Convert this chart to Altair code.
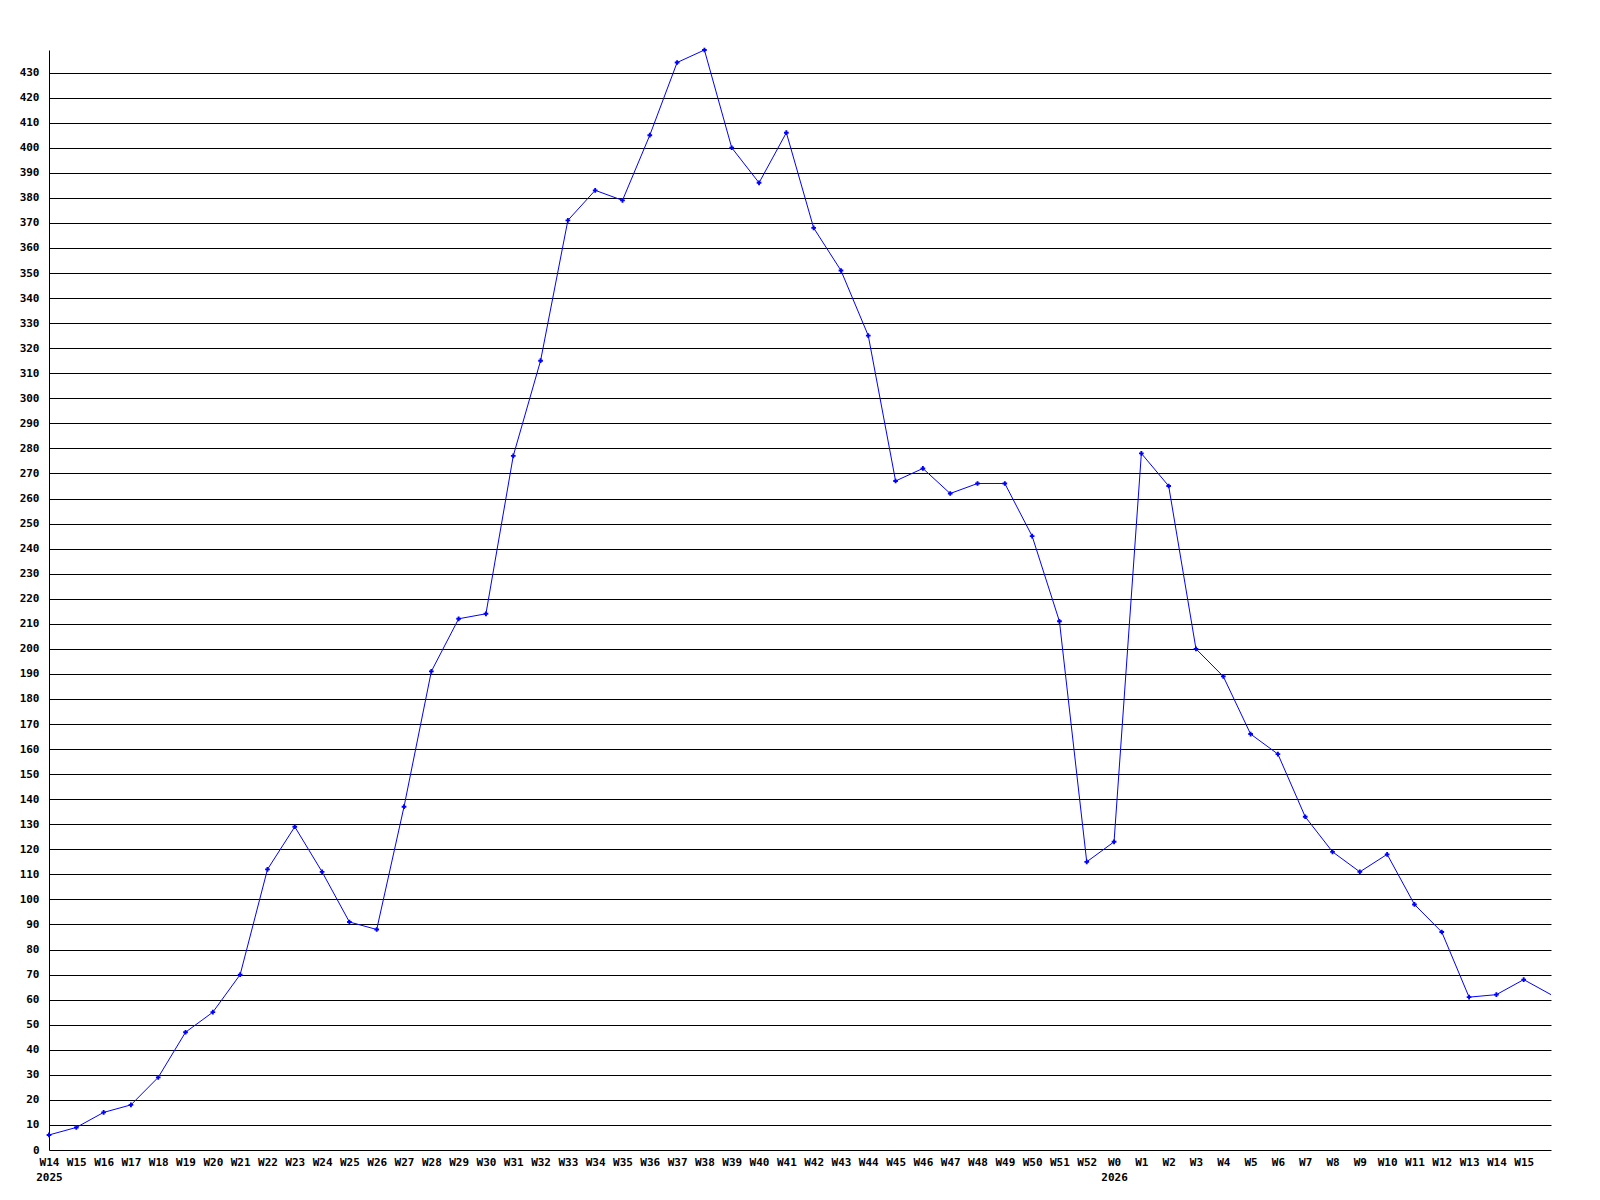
import altair as alt
import pandas as pd

weeks = ["W14", "W15", "W16", "W17", "W18", "W19", "W20", "W21", "W22", "W23",
         "W24", "W25", "W26", "W27", "W28", "W29", "W30", "W31", "W32", "W33",
         "W34", "W35", "W36", "W37", "W38", "W39", "W40", "W41", "W42", "W43",
         "W44", "W45", "W46", "W47", "W48", "W49", "W50", "W51", "W52",
         "W0", "W1", "W2", "W3", "W4", "W5", "W6", "W7", "W8", "W9", "W10",
         "W11", "W12", "W13", "W14", "W15", "W16"]
years = ["2025"] + [""] * 38 + ["2026"] + [""] * 16
values = [6, 9, 15, 18, 29, 47, 55, 70, 112, 129,
          111, 91, 88, 137, 191, 212, 214, 277, 315, 371,
          383, 379, 405, 434, 439, 400, 386, 406, 368, 351,
          325, 267, 272, 262, 266, 266, 245, 211, 115,
          123, 278, 265, 200, 189, 166, 158, 133, 119, 111, 118,
          98, 87, 61, 62, 68, 62]
shown = [True] * 55 + [False]  # last point lies on the plot edge, unlabeled

df = pd.DataFrame({"i": list(range(len(values))), "week": weeks,
                   "year": years, "value": values, "shown": shown})

n_labeled = 55
label_items = []
for k in range(n_labeled):
    if years[k]:
        label_items.append("['%s','%s']" % (weeks[k], years[k]))
    else:
        label_items.append("'%s'" % weeks[k])
label_expr = "[" + ",".join(label_items) + "][datum.value]"

FONT = "DejaVu Sans Mono"

x = alt.X("i:Q",
          scale=alt.Scale(domain=[0, len(values) - 1], nice=False, zero=False),
          axis=alt.Axis(values=list(range(n_labeled)), tickCount=200, labelExpr=label_expr,
                        title=None, grid=False, ticks=False, domain=False,
                        labelFont=FONT, labelFontWeight="bold", labelFontSize=11,
                        labelColor="black", labelPadding=6, labelLineHeight=15,
                        labelOverlap=False, labelBaseline="top", labelAlign="center"))
y = alt.Y("value:Q",
          scale=alt.Scale(domain=[0, 439], nice=False),
          axis=alt.Axis(values=list(range(0, 440, 10)), tickCount=200, title=None,
                        grid=True, gridColor="black", gridWidth=1, gridOpacity=1,
                        ticks=False, domain=True, domainColor="black", domainWidth=1,
                        labelOverlap=False,
                        labelFont=FONT, labelFontWeight="bold", labelFontSize=11,
                        labelColor="black", labelPadding=10))

line = alt.Chart(df).mark_line(color="#0000ff", strokeWidth=1, clip=True).encode(x=x, y=y)
pts = alt.Chart(df).transform_filter("datum.shown").mark_point(
    shape="cross", filled=True, size=22, color="#0000ff", opacity=1).encode(x="i:Q", y="value:Q")

chart = (line + pts).properties(
    width=1502, height=1100,
    autosize=alt.AutoSizeParams(type="none"),
    padding={"left": 41, "top": 42, "right": 20, "bottom": 40},
    background="white",
).configure_view(stroke=None)

chart.save("out.html", embed_options={"renderer": "svg", "actions": False})
